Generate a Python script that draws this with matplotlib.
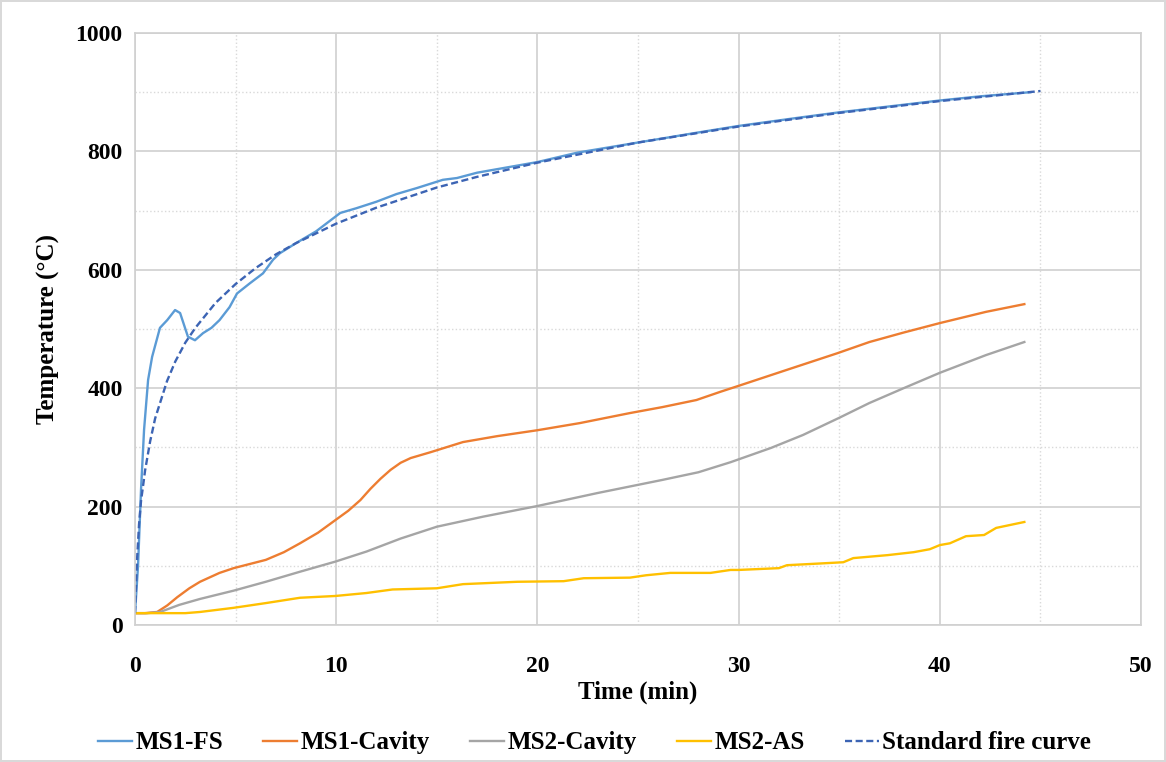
import matplotlib
matplotlib.use("Agg")
import matplotlib.pyplot as plt
from matplotlib.ticker import MultipleLocator

# ---- data ----
t_fs = [0, 0.15, 0.3, 0.45, 0.65, 0.85, 1.24, 1.6, 1.99, 2.24, 2.63, 2.98, 3.38, 3.8,
        4.2, 4.7, 5.07, 5.7, 6.36, 6.86, 7.2, 8, 9, 10.2, 11, 12, 13, 14, 15.3, 16, 17,
        18, 20, 22, 25, 28, 30, 33, 35, 38, 40, 42, 44.5]
T_fs = [20, 100, 230, 330, 414, 453, 502, 515, 532, 527, 487, 481, 493, 502,
        515, 537, 560, 577, 594, 617, 628, 645, 665, 696, 704, 715, 728, 738, 752, 755, 764,
        770, 782, 798, 815, 832, 843, 857, 866, 878, 886, 893, 900]

t_cav1 = [0, 0.5, 1.1, 1.6, 2.1, 2.7, 3.23, 4.2, 4.9, 5.7, 6.5, 7.4, 8.2, 9.1, 9.95, 10.6,
          11.2, 11.7, 12.2, 12.7, 13.2, 13.7, 14.7, 16.3, 18, 20, 22.1, 24.6, 26.2, 27.9, 29.1,
          30, 32.4, 34.9, 36.5, 38.2, 40, 42.3, 44.2]
T_cav1 = [20, 20, 22, 33, 47, 62, 73, 88, 96, 103, 110, 123, 138, 156, 177, 193,
          211, 230, 247, 262, 274, 282, 292, 309, 319, 329, 341, 358, 368, 380, 394,
          404, 431, 459, 478, 494, 510, 529, 542]

t_cav2 = [0, 0.6, 1.25, 2.2, 3.23, 4.9, 6.5, 8.2, 9.95, 11.5, 13.2, 15, 17.3, 20, 23, 26.2, 28,
          29.6, 31.6, 33.2, 35, 36.5, 38.2, 40, 42.3, 44.2]
T_cav2 = [20, 20, 22, 34, 44, 58, 73, 90, 107, 124, 146, 166, 183, 201, 223, 245, 258,
          275, 299, 321, 350, 375, 400, 426, 456, 478]

t_as = [0, 1.5, 2.5, 3.23, 4.9, 6.5, 8.2, 9.95, 11.5, 12.8, 15, 16.3, 19, 21.3, 22.3, 24.6,
        25.4, 26.6, 28.6, 29.6, 30, 32, 32.4, 34.1, 35.2, 35.7, 37.4, 38.7, 39.5, 40, 40.5,
        41.3, 42.2, 42.8, 43.5, 44.2]
T_as = [20, 20, 20, 22, 29, 37, 46, 49, 54, 60, 62, 69, 73, 74, 79, 80,
        84, 88, 88, 93, 93, 96, 101, 104, 106, 113, 118, 123, 128, 135, 138,
        150, 152, 164, 169, 174]

t_std = [0, 0.1, 0.2, 0.3, 0.4, 0.5, 0.75, 1, 1.59, 2, 2.5, 3, 4, 5, 6, 7, 8, 10, 12, 15, 17,
         20, 25, 30, 35, 40, 45]
T_std = [20, 110, 170, 210, 235, 261, 310, 349, 412, 445, 477, 502, 544, 576, 603, 626, 645,
         678, 705, 739, 757, 781, 815, 842, 865, 885, 902]

series_names = ["MS1-FS", "MS1-Cavity", "MS2-Cavity", "MS2-AS", "Standard fire curve"]
x_ticks = [0, 10, 20, 30, 40, 50]
y_ticks = [0, 200, 400, 600, 800, 1000]

# ---- plot ----
plt.rcParams['font.family'] = ['Liberation Serif', 'DejaVu Serif']
plt.rcParams['font.weight'] = 'bold'

fig = plt.figure(figsize=(11.66, 7.62), dpi=100)
fig.patch.set_edgecolor('#D9D9D9')
fig.patch.set_linewidth(1.5)
ax = fig.add_axes([0.1158, 0.1798, 0.8628, 0.7769])

ax.plot(t_fs, T_fs, color='#5B9BD5', lw=1.7, label=series_names[0])
ax.plot(t_cav1, T_cav1, color='#ED7D31', lw=1.7, label=series_names[1])
ax.plot(t_cav2, T_cav2, color='#A5A5A5', lw=1.7, label=series_names[2])
ax.plot(t_as, T_as, color='#FFC000', lw=1.7, label=series_names[3])
ax.plot(t_std, T_std, color='#3C64B4', lw=1.7, ls=(0, (3, 1.5)), label=series_names[4])

ax.set_xlim(0, 50)
ax.set_ylim(0, 1000)
ax.set_xticks(x_ticks)
ax.set_yticks(y_ticks)
ax.xaxis.set_minor_locator(MultipleLocator(5))
ax.yaxis.set_minor_locator(MultipleLocator(100))
ax.grid(which='major', color='#D0D0D0', lw=1.2, ls='-')
ax.grid(which='minor', color='#D9D9D9', lw=1.0, ls=':')
ax.set_axisbelow(True)
for s in ax.spines.values():
    s.set_color('#D0D0D0')
    s.set_linewidth(1.2)
ax.tick_params(which='both', length=0, labelsize=17)
ax.tick_params(axis='x', pad=22)
ax.tick_params(axis='y', pad=9)
for lbl in ax.get_xticklabels() + ax.get_yticklabels():
    lbl.set_fontweight('bold')

ax.set_xlabel('Time (min)', fontsize=18, fontweight='bold', labelpad=3)
ax.set_ylabel('Temperature (°C)', fontsize=18, fontweight='bold', labelpad=11)

leg = fig.legend(loc='center', bbox_to_anchor=(0.51, 0.025), ncol=5, frameon=False,
                 prop={'size': 18, 'weight': 'bold'}, handlelength=1.35,
                 handletextpad=0.15, columnspacing=1.6)

fig.savefig('out.png', dpi=100, edgecolor=fig.get_edgecolor())
